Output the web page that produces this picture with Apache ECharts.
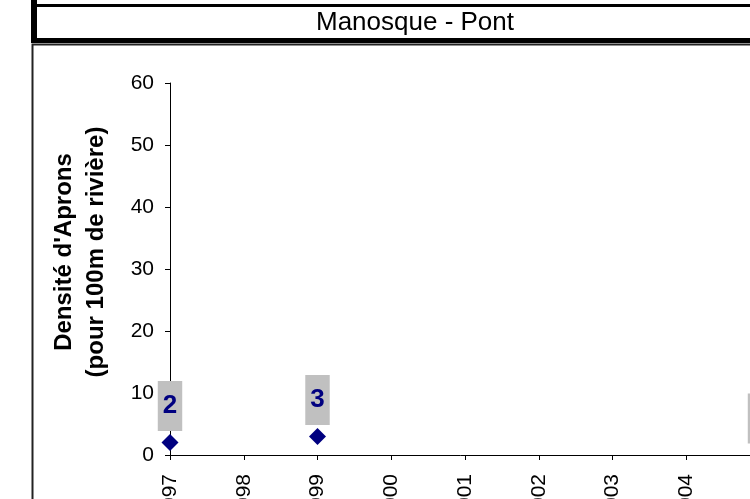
<!DOCTYPE html>
<html>
<head>
<meta charset="utf-8">
<script src="https://cdn.jsdelivr.net/npm/echarts@6/dist/echarts.min.js"></script>
<style>
    html, body { margin: 0; padding: 0; background: #fff; }
    #div_chart { width: 750px; height: 499px; }
</style>
</head>
<body>
<div id="div_chart"></div>
<script>
//数据
var years = [1997, 1999, 2005];
var density = [2, 3, 0];
var stationName = "Manosque - Pont";
var yName = ["Densité d'Aprons", "(pour 100m de rivière)"];
var xMin = 1997, xMax = 2005;
var yMin = 0, yMax = 60, yStep = 10;

function showDensityChart() {
    var fontName = "'Liberation Sans', Arial, sans-serif";
    var points = [];
    for (var i = 0; i < years.length; i++) {
        points.push([years[i], density[i]]);
    }

    var option = {
        animation: false,
        backgroundColor: '#fff',
        grid: {
            left: 170,
            top: 83,
            width: 590,
            height: 372,
            containLabel: false,
            outerBoundsMode: 'none'
        },
        xAxis: {
            type: 'value',
            min: xMin,
            max: xMax,
            interval: 1,
            splitLine: {show: false},
            axisLine: {lineStyle: {color: '#000', width: 1}},
            axisTick: {length: 5, lineStyle: {color: '#000'}},
            axisLabel: {
                rotate: 90,
                margin: 19,
                color: '#000',
                fontSize: 21,
                fontFamily: fontName,
                formatter: function (v) { return String(v); }
            }
        },
        yAxis: {
            type: 'value',
            min: yMin,
            max: yMax,
            interval: yStep,
            splitLine: {show: false},
            axisLine: {show: true, lineStyle: {color: '#000', width: 1}},
            axisTick: {show: true, length: 5, lineStyle: {color: '#000'}},
            axisLabel: {
                margin: 16,
                color: '#000',
                fontSize: 21,
                fontFamily: fontName
            }
        },
        graphic: [
            // 标题框
            {type: 'rect', shape: {x: 31, y: -10, width: 6, height: 53}, style: {fill: '#000'}},
            {type: 'rect', shape: {x: 31, y: 4, width: 800, height: 3}, style: {fill: '#000'}},
            {type: 'rect', shape: {x: 31, y: 38, width: 800, height: 5}, style: {fill: '#000'}},
            {
                type: 'text', x: 415, y: 23,
                style: {
                    text: stationName, fill: '#000', font: '26px ' + fontName,
                    align: 'center', verticalAlign: 'middle'
                }
            },
            // 图表边框
            {type: 'rect', shape: {x: 32.5, y: 44.5, width: 800, height: 600},
                style: {fill: null, stroke: '#222', lineWidth: 2}},
            // 纵轴名称
            {
                type: 'text', x: 80, y: 252, rotation: Math.PI / 2,
                style: {
                    text: yName.join('\n'), fill: '#000', font: 'bold 24px ' + fontName,
                    lineHeight: 32, align: 'center', verticalAlign: 'middle'
                }
            }
        ],
        series: [
            {
                type: 'scatter',
                data: points,
                symbol: 'diamond',
                symbolSize: 17,
                itemStyle: {color: '#000080', opacity: 1},
                label: {
                    show: true,
                    position: 'top',
                    distance: 3,
                    formatter: function (p) { return p.value[1]; },
                    color: '#000080',
                    fontSize: 26,
                    fontWeight: 'bold',
                    fontFamily: fontName,
                    lineHeight: 30,
                    backgroundColor: '#c0c0c0',
                    padding: [10, 5, 10, 5]
                }
            }
        ]
    };

    var dom_chart = echarts.init(document.getElementById('div_chart'));
    dom_chart.setOption(option);
}

showDensityChart();
</script>
</body>
</html>
